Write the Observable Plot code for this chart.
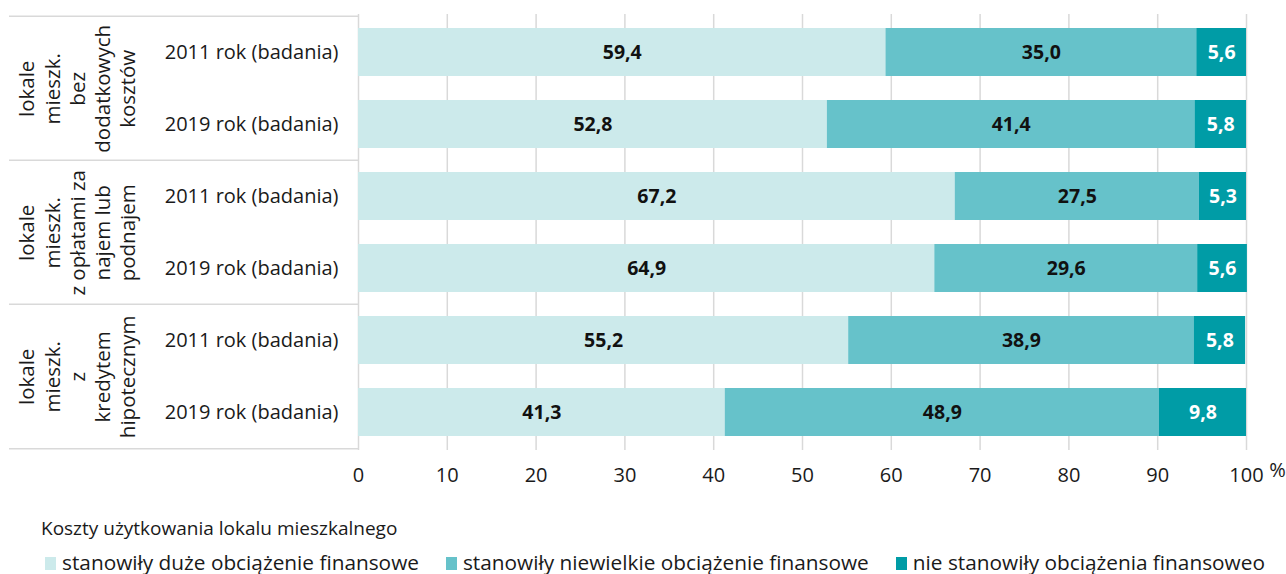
<!DOCTYPE html>
<html>
<head>
<meta charset="utf-8">
<script src="https://cdn.jsdelivr.net/npm/d3@7"></script>
<script src="https://cdn.jsdelivr.net/npm/@observablehq/plot@0.6"></script>
<style>
  html, body { margin: 0; padding: 0; background: #fff; }
  body { width: 1286px; height: 574px; overflow: hidden; font-family: "Open Sans", sans-serif; color: #1a1a1a; }
  #legend-title { position: absolute; left: 41px; top: 514px; font-size: 19px; line-height: 28px; white-space: nowrap; }
  #legend { position: absolute; left: 45px; top: 548px; display: flex; font-size: 20.8px; line-height: 28px; white-space: nowrap; }
  .item { display: flex; align-items: center; margin-right: 27px; }
  .sw { width: 11px; height: 13px; margin-right: 6px; margin-top: 2px; }
  #chart { position: absolute; left: 0; top: 0; }
</style>
</head>
<body>
<div id="chart"></div>
<div id="legend-title"></div>
<div id="legend"></div>
<script>
// ---- data ----
const groups = [
  "lokale\nmieszk.\nbez\ndodatkowych\nkosztów",
  "lokale\nmieszk.\nz opłatami za\nnajem lub\npodnajem",
  "lokale\nmieszk.\nz\nkredytem\nhipotecznym"
];
const years = ["2011 rok (badania)", "2019 rok (badania)"];
const series = [
  "stanowiły duże obciążenie finansowe",
  "stanowiły niewielkie obciążenie finansowe",
  "nie stanowiły obciążenia finansoweo"
];
const colors = ["#cceaeb", "#66c2ca", "#009ca6"];
const duze = [59.4, 52.8, 67.2, 64.9, 55.2, 41.3];
const niewielkie = [35.0, 41.4, 27.5, 29.6, 38.9, 48.9];
const nieStanowily = [5.6, 5.8, 5.3, 5.6, 5.8, 9.8];
const xTicks = [0, 10, 20, 30, 40, 50, 60, 70, 80, 90, 100];
const legendTitle = "Koszty użytkowania lokalu mieszkalnego";

// ---- build table ----
const rows = [];
groups.forEach((g, gi) => years.forEach((y, yi) => rows.push({key: `r${gi * 2 + yi}`, group: g, year: y})));
const valuesBySeries = [duze, niewielkie, nieStanowily];
const data = [];
series.forEach((s, si) => rows.forEach((r, ri) => data.push({row: r.key, series: s, value: valuesBySeries[si][ri]})));
const yearOf = Object.fromEntries(rows.map(r => [r.key, r.year]));
const groupRows = groups.map((g, gi) => ({row: rows[gi * 2].key, text: g}));
const fmt = v => v.toFixed(1).replace(".", ",");

const font = "Open Sans, sans-serif";
const stackOpts = {x: "value", y: "row", z: "series", order: series};

const plot = Plot.plot({
  width: 1286,
  height: 500,
  marginLeft: 358,
  marginRight: 40,
  marginTop: 14,
  marginBottom: 50,
  style: {fontFamily: font, fontSize: "20px", color: "#1a1a1a", background: "transparent"},
  x: {domain: [0, 100], ticks: xTicks, tickSize: 0, tickPadding: 17, label: null},
  y: {domain: rows.map(r => r.key), paddingInner: 1/3, paddingOuter: 1/6, tickSize: 0, tickPadding: 20, tickFormat: k => yearOf[k], label: null},
  color: {domain: series, range: colors},
  marks: [
    Plot.ruleX(xTicks, {stroke: "#d9d9d9", strokeWidth: 1.5}),
    Plot.ruleY(groupRows, {y: "row", x1: -39.3, x2: 0, dy: -36.3, stroke: "#d9d9d9", strokeWidth: 1.5}),
    Plot.ruleY([rows[rows.length - 1].key], {x1: -39.3, x2: 0, dy: 36.3, stroke: "#d9d9d9", strokeWidth: 1.5}),
    Plot.barX(data, Plot.stackX({...stackOpts, fill: "series"})),
    Plot.text(data, Plot.filter(d => d.series !== series[2], Plot.stackX({...stackOpts, text: d => fmt(d.value), fill: "#111", fontWeight: "bold", fontSize: 19.5}))),
    Plot.text(data, Plot.filter(d => d.series === series[2], Plot.stackX({...stackOpts, text: d => fmt(d.value), fill: "white", fontWeight: "bold", fontSize: 19.5}))),
    Plot.text(groupRows, {y: "row", text: "text", rotate: -90, frameAnchor: "left", dx: -282, dy: 36.3, textAnchor: "middle", lineAnchor: "middle", lineHeight: 1.22, fontSize: 20.5, fill: "#1a1a1a"}),
    Plot.text(["%"], {x: () => 100, frameAnchor: "bottom", dx: 31, dy: 26, fontSize: 20, fill: "#1a1a1a"})
  ]
});
document.getElementById("chart").appendChild(plot);

d3.select("#legend-title").text(legendTitle);
const items = d3.select("#legend").selectAll(".item").data(series).join("div").attr("class", "item");
items.append("div").attr("class", "sw").style("background", (d, i) => colors[i]);
items.append("span").text(d => d);
</script>
</body>
</html>
